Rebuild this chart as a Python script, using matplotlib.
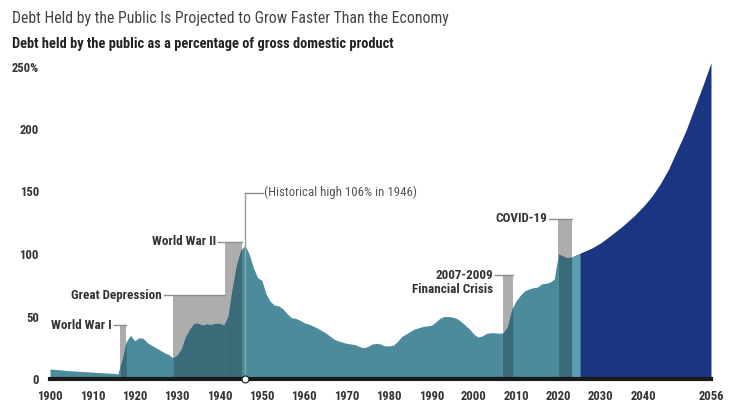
import numpy as np
import matplotlib.pyplot as plt
from matplotlib import font_manager
from matplotlib.patches import Rectangle
from matplotlib.transforms import ScaledTranslation

# pick a narrow face if one is installed, otherwise Roboto at a smaller size
names = {f.name for f in font_manager.fontManager.ttflist}
narrow = [n for n in ['Roboto Condensed', 'Liberation Sans Narrow', 'DejaVu Sans Condensed']
          if n in names]
if narrow:
    plt.rcParams['font.family'] = [narrow[0], 'DejaVu Sans']
    scale = 1.12
    title_size, sub_size = 11.3, 10.35
else:
    plt.rcParams['font.family'] = ['Roboto', 'DejaVu Sans']
    scale = 1.0
    title_size, sub_size = 10.1, 9.2

# historical debt held by the public, % of GDP
hist_years = [1900, 1905, 1910, 1915, 1916, 1917, 1918, 1919, 1920, 1921, 1922, 1923,
              1924, 1925, 1926, 1927, 1928, 1929, 1930, 1931, 1932, 1933, 1934, 1935,
              1936, 1937, 1938, 1939, 1940, 1941, 1942, 1943, 1944, 1945, 1946, 1947,
              1948, 1949, 1950, 1951, 1952, 1953, 1954, 1955, 1956, 1957, 1958, 1959,
              1960, 1961, 1962, 1963, 1964, 1965, 1966, 1967, 1968, 1969, 1970, 1971,
              1972, 1973, 1974, 1975, 1976, 1977, 1978, 1979, 1980, 1981, 1982, 1983,
              1984, 1985, 1986, 1987, 1988, 1989, 1990, 1991, 1992, 1993, 1994, 1995,
              1996, 1997, 1998, 1999, 2000, 2001, 2002, 2003, 2004, 2005, 2006, 2007,
              2008, 2009, 2010, 2011, 2012, 2013, 2014, 2015, 2016, 2017, 2018, 2019,
              2020, 2021, 2022, 2023, 2024, 2025]
hist_debt = [8, 6.5, 5.5, 4.5, 4, 15, 30, 35, 30.5, 33, 32.5, 29, 27, 25, 23, 21, 19.5,
             17, 19, 24, 34, 40, 44.5, 44.5, 43, 44, 43.5, 44.5, 44.5, 43, 50, 72, 91,
             103, 107, 100, 89, 81, 79, 68, 62, 59, 58.5, 56, 52, 49, 48.5, 47, 45,
             44, 42.5, 41, 39, 37, 34.5, 32, 30.5, 29.5, 28.5, 28, 27.5, 26, 25, 26,
             28, 28.5, 28, 26.5, 26.5, 27, 30, 34, 36, 38, 40, 41, 42, 42.5, 43, 45.5,
             48.5, 50, 50, 49.5, 48.5, 46, 43, 40, 36, 33.5, 34.5, 36.5, 37, 37, 36.5,
             37, 42, 56, 62.5, 67, 70.5, 72, 73, 73.5, 76, 76.5, 77.5, 80,
             100, 98.5, 97, 97.5, 99, 100.5]

# projection
proj_years = [2025, 2028, 2030, 2032, 2035, 2038, 2040, 2042, 2044, 2046, 2048, 2050,
              2052, 2054, 2056]
proj_debt = [100.5, 105, 109, 114, 122, 131, 138, 146, 156, 168, 183, 198, 216, 234, 253]

# event bars
event_start = [1916.6, 1929.1, 1941.3, 2006.8, 2020.0]
event_end = [1918.0, 1941.3, 1945.2, 2009.2, 2023.1]
event_top = [43, 67, 110, 83, 128]
event_labels = ['World War I', 'Great Depression', 'World War II',
                '2007-2009\nFinancial Crisis', 'COVID-19']
label_x = [1914.6, 1926.4, 1939.2, 2004.6, 2017.3]

peak_year = 1946
peak_label_top = 149

x_ticks = [1900, 1910, 1920, 1930, 1940, 1950, 1960, 1970, 1980, 1990, 2000, 2010,
           2020, 2030, 2040, 2056]
y_ticks = [0, 50, 100, 150, 200, 250]
y_labels = ['0', '50', '100', '150', '200', '250%']

teal = '#4b8b9c'
dark_teal = '#3b6a79'
light_teal = '#5b9fb0'
navy = '#1a3582'
gray = '#adadad'
line_gray = '#8e8e8e'
txt = '#333333'

fig = plt.figure(figsize=(7.3, 4.12), dpi=100)
ax = fig.add_axes([50 / 730, 33 / 412, 661 / 730, 318.75 / 412])
ax.set_xlim(1900, 2056)
ax.set_ylim(0, 255)

hy = np.array(hist_years, dtype=float)
hd = np.array(hist_debt, dtype=float)

ax.fill_between(hy, 0, hd, color=teal, lw=0, zorder=2)
ax.fill_between(proj_years, 0, proj_debt, color=navy, lw=0, zorder=2)

# lighter strip between the COVID bar and the projection
xs = np.concatenate([[2023.1], hy[(hy > 2023.1) & (hy < 2025)], [2025.05]])
ax.fill_between(xs, 0, np.interp(xs, hy, hd), color=light_teal, lw=0, zorder=3)

lab_size = 8.4 * scale
for a, b, top, lab, lx in zip(event_start, event_end, event_top, event_labels, label_x):
    ax.add_patch(Rectangle((a, 0), b - a, top, color=gray, lw=0, zorder=1))
    xs = np.concatenate([[a], hy[(hy > a) & (hy < b)], [b]])
    ax.fill_between(xs, 0, np.interp(xs, hy, hd), color=dark_teal, lw=0, zorder=3)
    ax.plot([lx + 0.5, b], [top, top], color=line_gray, lw=1, zorder=4)
    if '\n' in lab:
        ax.text(lx, top, lab, ha='right', va='top', fontsize=lab_size, fontweight='bold',
                color=txt, linespacing=1.05, zorder=5,
                transform=ax.transData + ScaledTranslation(0, 6 / 100, fig.dpi_scale_trans))
    else:
        ax.text(lx, top, lab, ha='right', va='center', fontsize=lab_size,
                fontweight='bold', color=txt, zorder=5)

# historical high marker
ax.plot([peak_year, peak_year], [0, peak_label_top], color='#8fa3aa', lw=1, zorder=4)
ax.plot([peak_year, peak_year + 4.2], [peak_label_top, peak_label_top], color=line_gray,
        lw=1, zorder=4)
ax.text(peak_year + 4.6, peak_label_top, '(Historical high 106% in 1946)', ha='left',
        va='center', fontsize=8.3 * scale, color='#555555', zorder=5)

ax.axhline(0, color='#1a1a1a', lw=3, zorder=6, clip_on=False)
ax.plot([peak_year], [0], marker='o', ms=5, mfc='white', mec='#1a1a1a', mew=0.8,
        zorder=7, clip_on=False)

ax.set_xticks(x_ticks, [str(t) for t in x_ticks])
ax.set_yticks(y_ticks, y_labels)
ax.tick_params(axis='x', length=0, pad=8, labelsize=8.1 * scale, labelcolor=txt)
ax.tick_params(axis='y', length=0, pad=8, labelsize=8.1 * scale, labelcolor=txt)
for lab in ax.get_xticklabels() + ax.get_yticklabels():
    lab.set_fontweight('bold')
for s in ax.spines.values():
    s.set_visible(False)

fig.text(12 / 730, 1 - 18 / 412, 'Debt Held by the Public Is Projected to Grow Faster Than the Economy',
         ha='left', va='center', fontsize=title_size, color='#444444')
fig.text(12 / 730, 1 - 44 / 412, 'Debt held by the public as a percentage of gross domestic product',
         ha='left', va='center', fontsize=sub_size, fontweight='bold', color='#222222')

fig.savefig('out.png', dpi=100)
